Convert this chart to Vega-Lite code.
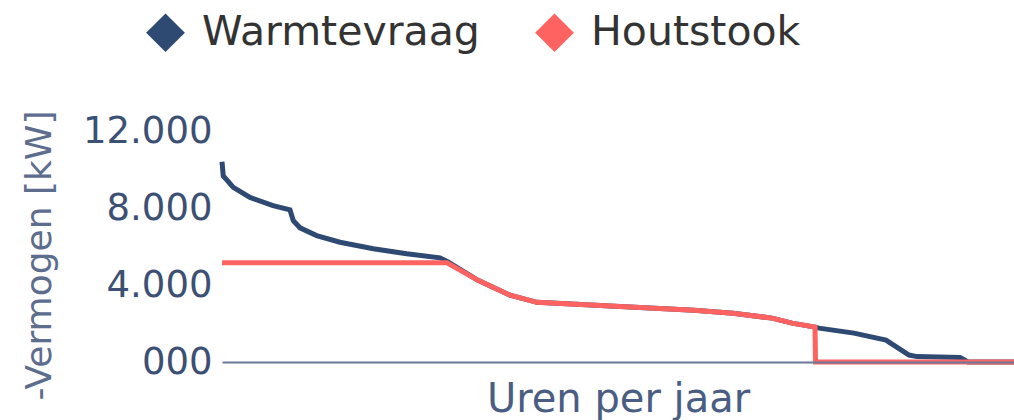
{
  "$schema": "https://vega.github.io/schema/vega-lite/v6.json",
  "width": 792,
  "height": 231,
  "autosize": {"type": "none"},
  "padding": {"left": 222, "top": 131, "right": 0, "bottom": 58},
  "background": "white",
  "config": {"view": {"stroke": null}, "font": "DejaVu Sans"},
  "data": {
    "values": [
      {"serie": "Warmtevraag", "uren": 0, "kw": 10400},
      {"serie": "Warmtevraag", "uren": 14, "kw": 9670},
      {"serie": "Warmtevraag", "uren": 125, "kw": 9070},
      {"serie": "Warmtevraag", "uren": 310, "kw": 8550},
      {"serie": "Warmtevraag", "uren": 564, "kw": 8120},
      {"serie": "Warmtevraag", "uren": 752, "kw": 7900},
      {"serie": "Warmtevraag", "uren": 789, "kw": 7340},
      {"serie": "Warmtevraag", "uren": 863, "kw": 6970},
      {"serie": "Warmtevraag", "uren": 1047, "kw": 6570},
      {"serie": "Warmtevraag", "uren": 1305, "kw": 6220},
      {"serie": "Warmtevraag", "uren": 1674, "kw": 5880},
      {"serie": "Warmtevraag", "uren": 2043, "kw": 5620},
      {"serie": "Warmtevraag", "uren": 2411, "kw": 5410},
      {"serie": "Warmtevraag", "uren": 2500, "kw": 5200},
      {"serie": "Warmtevraag", "uren": 2832, "kw": 4240},
      {"serie": "Warmtevraag", "uren": 3185, "kw": 3470},
      {"serie": "Warmtevraag", "uren": 3484, "kw": 3100},
      {"serie": "Warmtevraag", "uren": 3916, "kw": 3000},
      {"serie": "Warmtevraag", "uren": 4568, "kw": 2840},
      {"serie": "Warmtevraag", "uren": 5221, "kw": 2690},
      {"serie": "Warmtevraag", "uren": 5652, "kw": 2530},
      {"serie": "Warmtevraag", "uren": 6083, "kw": 2280},
      {"serie": "Warmtevraag", "uren": 6305, "kw": 2020},
      {"serie": "Warmtevraag", "uren": 6559, "kw": 1810},
      {"serie": "Warmtevraag", "uren": 6603, "kw": 1760},
      {"serie": "Warmtevraag", "uren": 6990, "kw": 1500},
      {"serie": "Warmtevraag", "uren": 7344, "kw": 1140},
      {"serie": "Warmtevraag", "uren": 7599, "kw": 360},
      {"serie": "Warmtevraag", "uren": 7687, "kw": 280},
      {"serie": "Warmtevraag", "uren": 8163, "kw": 240},
      {"serie": "Warmtevraag", "uren": 8251, "kw": 0},
      {"serie": "Warmtevraag", "uren": 8760, "kw": 0},
      {"serie": "Houtstook", "uren": 0, "kw": 5150},
      {"serie": "Houtstook", "uren": 2489, "kw": 5150},
      {"serie": "Houtstook", "uren": 2832, "kw": 4240},
      {"serie": "Houtstook", "uren": 3185, "kw": 3470},
      {"serie": "Houtstook", "uren": 3484, "kw": 3100},
      {"serie": "Houtstook", "uren": 3916, "kw": 3000},
      {"serie": "Houtstook", "uren": 4568, "kw": 2840},
      {"serie": "Houtstook", "uren": 5221, "kw": 2690},
      {"serie": "Houtstook", "uren": 5652, "kw": 2530},
      {"serie": "Houtstook", "uren": 6083, "kw": 2280},
      {"serie": "Houtstook", "uren": 6305, "kw": 2020},
      {"serie": "Houtstook", "uren": 6559, "kw": 1810},
      {"serie": "Houtstook", "uren": 6565, "kw": 0},
      {"serie": "Houtstook", "uren": 8760, "kw": 0}
    ]
  },
  "mark": {"type": "line", "strokeWidth": 5, "interpolate": "linear"},
  "encoding": {
    "x": {
      "field": "uren",
      "type": "quantitative",
      "scale": {"domain": [0, 8760], "nice": false, "zero": false},
      "axis": {
        "title": "Uren per jaar",
        "labels": false,
        "ticks": false,
        "grid": false,
        "domain": true,
        "domainColor": "#6b7a99",
        "domainWidth": 2,
        "titleFont": "DejaVu Sans",
        "titleFontSize": 40,
        "titleFontWeight": "normal",
        "titleColor": "#4a5d82",
        "titlePadding": 17,
        "zindex": 1
      }
    },
    "y": {
      "field": "kw",
      "type": "quantitative",
      "scale": {"domain": [0, 12000], "nice": false},
      "axis": {
        "title": "-Vermogen [kW]",
        "values": [0, 4000, 8000, 12000],
        "labelExpr": "datum.value === 0 ? '000' : replace(format(datum.value, ','), ',', '.')",
        "ticks": false,
        "grid": false,
        "domain": false,
        "labelFont": "DejaVu Sans",
        "labelFontSize": 37,
        "labelColor": "#3c5074",
        "labelPadding": 10,
        "titleFont": "DejaVu Sans",
        "titleFontSize": 36,
        "titleFontWeight": "normal",
        "titleColor": "#5d6d8e",
        "titlePadding": 24,
        "titleY": 124
      }
    },
    "color": {
      "field": "serie",
      "type": "nominal",
      "scale": {"domain": ["Warmtevraag", "Houtstook"], "range": ["#2e4a72", "#ff6361"]},
      "legend": {
        "title": null,
        "orient": "none",
        "legendX": -77,
        "legendY": -119,
        "direction": "horizontal",
        "symbolType": "diamond",
        "symbolSize": 1500,
        "symbolStrokeWidth": 0,
        "labelFont": "DejaVu Sans",
        "labelFontSize": 41,
        "labelColor": "#333333",
        "labelLimit": 0,
        "labelOffset": 16,
        "columnPadding": 54,
        "encode": {
          "symbols": {"update": {"fill": {"scale": "color", "field": "value"}, "opacity": {"value": 1}}}
        }
      }
    }
  }
}
